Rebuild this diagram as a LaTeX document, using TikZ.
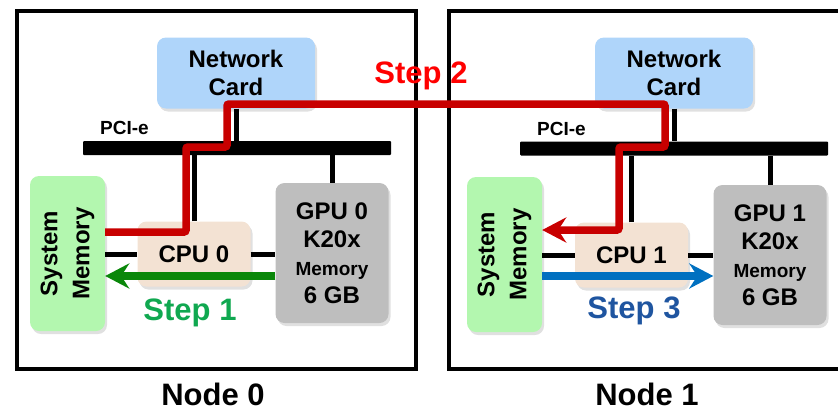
\documentclass[tikz,border=0pt]{standalone}
\usepackage{fontspec}
\setmainfont{Liberation Sans}
\usetikzlibrary{arrows.meta}
\usetikzlibrary{shadows}
\definecolor{netblue}{HTML}{AFD5FA}
\definecolor{cputan}{HTML}{F3E2D3}
\definecolor{gpugray}{HTML}{BEBEBE}
\definecolor{memgreen}{HTML}{B3F7AF}
\definecolor{stepred}{HTML}{C80000}
\definecolor{stepredtext}{HTML}{FF0000}
\definecolor{stepgreen}{HTML}{0A870A}
\definecolor{stepgreentext}{HTML}{10A850}
\definecolor{stepblue}{HTML}{0070C0}
\definecolor{stepbluetext}{HTML}{1F55A0}
\tikzset{
	box/.style = {
		rounded corners=9pt,
		align=center,
		inner sep=0pt,
		font=\fontsize{24}{28}\selectfont\bfseries,
		drop shadow={shadow xshift=2pt, shadow yshift=-3pt, opacity=0.12, fill=black}
	},
	box_net/.style = {
		box,
		fill=netblue,
		minimum width=158pt,
		minimum height=71pt
	},
	box_cpu/.style = {
		box,
		fill=cputan,
		minimum width=113pt,
		minimum height=65pt
	},
	box_gpu/.style = {
		box,
		fill=gpugray,
		minimum width=113pt,
		minimum height=140pt
	},
	box_mem/.style = {
		box,
		fill=memgreen,
		minimum width=75pt,
		minimum height=155pt
	},
	mem_text/.style = {
		rotate=90,
		align=center,
		inner sep=0pt,
		font=\fontsize{24}{32}\selectfont\bfseries
	},
	bus/.style = {
		fill=black,
		inner sep=0pt,
		rounded corners=1pt,
		minimum width=308pt,
		minimum height=14pt
	},
	bus_text/.style = {
		anchor=base west,
		inner sep=0pt,
		font=\fontsize{19}{22}\selectfont\bfseries
	},
	wire/.style = {
		line width=5pt
	},
	frame/.style = {
		draw,
		line width=4pt,
		inner sep=0pt
	},
	frame_text/.style = {
		anchor=base,
		inner sep=0pt,
		font=\fontsize{31}{34}\selectfont\bfseries
	},
	step_text/.style = {
		anchor=base,
		inner sep=0pt,
		font=\fontsize{31}{34}\selectfont\bfseries
	},
	step_red/.style = {
		->,
		draw=stepred,
		line width=7.5pt,
		rounded corners=2pt
	},
	step_green/.style = {
		->,
		draw=stepgreen,
		line width=8pt
	},
	step_blue/.style = {
		->,
		draw=stepblue,
		line width=8pt
	}
}

\begin{document}
\begin{tikzpicture}[x=1pt,y=-1pt,>={Stealth[length=24pt,width=25pt,inset=8pt]}]
\clip (0,0) rectangle (838,410);

\node [frame, minimum width=399pt, minimum height=358pt] (frame0) at (216,190) {};
\node [frame, minimum width=402pt, minimum height=358pt] (frame1) at (649.5,190) {};
\node [frame_text] (name0) at (213,405) {Node 0};
\node [frame_text] (name1) at (647,405) {Node 1};

\node [box_net] (net0) at (236,73) {Network\\Card};
\node [bus] (bus0) at (237,148) {};
\node [bus_text] (pci0) at (100,134) {PCI-e};
\node [box_mem] (mem0) at (67.5,253.5) {};
\node [mem_text] (memtext0) at (mem0) {System\\Memory};
\node [box_cpu] (cpu0) at (194,254) {CPU 0};
\node [box_gpu] (gpu0) at (332,253) {GPU 0\\K20x\\{\fontsize{19}{26}\selectfont Memory}\\6 GB};

\node [box_net] (net1) at (674,73) {Network\\Card};
\node [bus] (bus1) at (674,148.5) {};
\node [bus_text] (pci1) at (537,135) {PCI-e};
\node [box_mem] (mem1) at (504.5,254.5) {};
\node [mem_text] (memtext1) at (mem1) {System\\Memory};
\node [box_cpu] (cpu1) at (631.5,255) {CPU 1};
\node [box_gpu] (gpu1) at (770,255) {GPU 1\\K20x\\{\fontsize{19}{26}\selectfont Memory}\\6 GB};

\draw [wire] (net0.south) -- (net0.south |- bus0.north);
\draw [wire] (cpu0.north) -- (cpu0.north |- bus0.south);
\draw [wire] (gpu0.north) -- (gpu0.north |- bus0.south);
\draw [wire] (mem0.east |- cpu0.west) -- (cpu0.west);
\draw [wire] (cpu0.east) -- (cpu0.east -| gpu0.west);

\draw [wire] (net1.south) -- (net1.south |- bus1.north);
\draw [wire] (cpu1.north) -- (cpu1.north |- bus1.south);
\draw [wire] (gpu1.north) -- (gpu1.north |- bus1.south);
\draw [wire] (mem1.east |- cpu1.west) -- (cpu1.west);
\draw [wire] (cpu1.east) -- (cpu1.east -| gpu1.west);

\draw [step_green] (gpu0.west |- 0,276) -- (mem0.east |- 0,276);
\node [step_text, stepgreentext] (step1) at (190,320) {Step 1};

\draw [step_red] (mem0.east |- 0,232) -| (186,147) -| (227,104) -| (665,147) -| (619,230) -- (mem1.east |- 0,230);
\node [step_text, stepredtext] (step2) at (421,83) {Step 2};

\draw [step_blue] (mem1.east |- 0,276) -- (gpu1.west |- 0,276);
\node [step_text, stepbluetext] (step3) at (634,318) {Step 3};
\end{tikzpicture}
\end{document}
